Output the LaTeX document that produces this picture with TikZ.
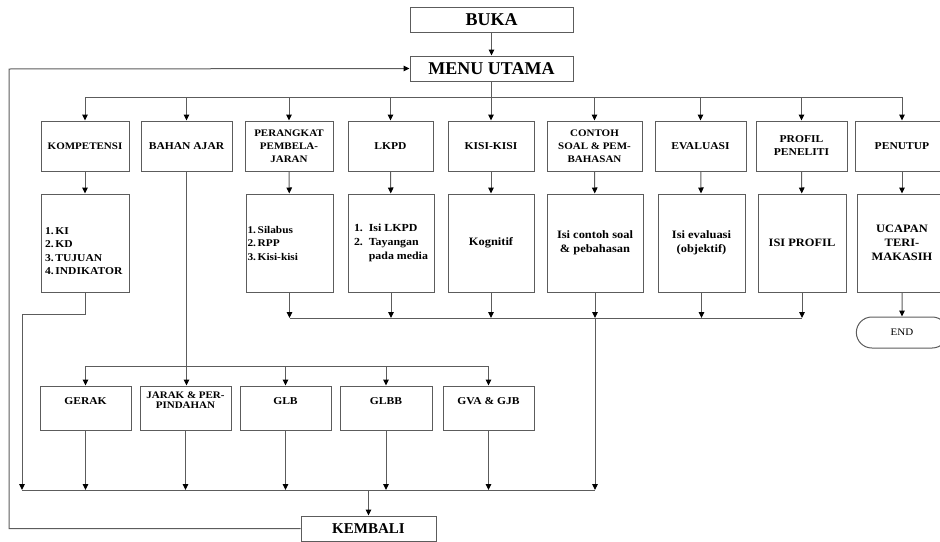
\documentclass[tikz,border=0pt]{standalone}
\usepackage{fontspec}
\setmainfont{Liberation Serif}
\newfontfamily\wideserif{Liberation Serif}[FakeStretch=1.1]
\usetikzlibrary{arrows.meta, shapes.misc}
\definecolor{Wire}{HTML}{5C5C5C}

\begin{document}
\begin{tikzpicture}[x=1pt, y=-1pt, >={Triangle[length=6pt, width=5.5pt, black]},
  box/.style={draw=Wire, line width=1pt, inner sep=2pt, align=center,
    font=\wideserif\bfseries\fontsize{10.5}{13}\selectfont},
  bigbox/.style={box, minimum width=163pt, minimum height=25pt,
    font=\bfseries\fontsize{18}{20}\selectfont},
  topbox/.style={box, minimum height=50pt},
  listbox/.style={box, minimum height=98pt, font=\wideserif\bfseries\fontsize{11.3}{14}\selectfont},
  lowbox/.style={box, minimum height=44pt, inner ysep=3pt, text height=15pt, text depth=23pt},
  wire/.style={draw=Wire, line width=1pt},
  arr/.style={wire, ->}]
  \useasboundingbox (0,0) rectangle (940,541);

  \node[bigbox] (buka) at (491.5,19.5) {BUKA};
  \node[bigbox] (menu) at (491.5,68.5) {MENU UTAMA};

  % menu items
  \node[topbox, minimum width=88pt, font=\wideserif\bfseries\fontsize{10}{13}\selectfont] (k1) at (85,146) {KOMPETENSI};
  \node[topbox, minimum width=91pt] (k2) at (186.5,146) {BAHAN AJAR};
  \node[topbox, minimum width=88pt, font=\wideserif\bfseries\fontsize{10}{13}\selectfont] (k3) at (289,146) {PERANGKAT\\PEMBELA-\\JARAN};
  \node[topbox, minimum width=85pt] (k4) at (390.5,146) {LKPD};
  \node[topbox, minimum width=86pt] (k5) at (491,146) {KISI-KISI};
  \node[topbox, minimum width=95pt, font=\wideserif\bfseries\fontsize{10}{13}\selectfont] (k6) at (594.5,146) {CONTOH\\SOAL \& PEM-\\BAHASAN};
  \node[topbox, minimum width=91pt] (k7) at (700.5,146) {EVALUASI};
  \node[topbox, minimum width=91pt] (k8) at (801.5,146) {PROFIL\\PENELITI};
  \node[topbox, minimum width=94pt] (k9) at (902,146) {PENUTUP};

  % contents
  \node[listbox, align=left, inner xsep=4pt, text width=80pt, inner ysep=3pt,
    text height=37pt, text depth=55pt, font=\wideserif\bfseries\fontsize{10.5}{13.5}\selectfont]
    (i1) at (85,243) {1.\,KI\\2.\,KD\\3.\,TUJUAN\\4.\,INDIKATOR};
  \node[listbox, align=left, inner xsep=1.5pt, text width=84pt,
    font=\wideserif\bfseries\fontsize{10.3}{13.5}\selectfont] (i3) at (289.5,243) {1.\,Silabus\\2.\,RPP\\3.\,Kisi-kisi};
  \node[listbox, minimum width=86pt, font=\wideserif\bfseries\fontsize{10.8}{14}\selectfont] (i4) at (391,243)
    {\begin{tabular}{@{}l@{\ \ }l@{}}1. & Isi LKPD\\2. & Tayangan\\ & pada media\end{tabular}};
  \node[listbox, minimum width=86pt] (i5) at (491,243) {Kognitif};
  \node[listbox, minimum width=96pt] (i6) at (595,243) {Isi contoh soal\\\& pebahasan};
  \node[listbox, minimum width=87pt] (i7) at (701.5,243) {Isi evaluasi\\(objektif)};
  \node[listbox, minimum width=88pt] (i8) at (802,243) {ISI PROFIL};
  \node[listbox, minimum width=90pt] (i9) at (902,243) {UCAPAN\\TERI-\\MAKASIH};
  \node[rounded rectangle, draw=Wire, line width=1pt, minimum width=98pt, minimum height=31pt,
    font=\wideserif\fontsize{10}{12}\selectfont] (end) at (902,332.5) {END};

  % materi
  \node[lowbox, minimum width=91pt] (g1) at (85.5,408) {GERAK};
  \node[lowbox, minimum width=91pt, text height=19pt, text depth=19pt,
    font=\wideserif\bfseries\fontsize{10}{10}\selectfont] (g2) at (185.5,408) {JARAK \& PER-\\PINDAHAN};
  \node[lowbox, minimum width=91pt] (g3) at (285.5,408) {GLB};
  \node[lowbox, minimum width=92pt] (g4) at (386,408) {GLBB};
  \node[lowbox, minimum width=91pt] (g5) at (488.5,408) {GVA \& GJB};

  \node[box, minimum width=135pt, minimum height=25pt,
    font=\bfseries\fontsize{15}{17}\selectfont] (kembali) at (368.5,528.5) {KEMBALI};

  \coordinate (top) at (491.5,97);
  \coordinate (sub) at (186.5,366);
  \coordinate (mid) at (595,318);
  \coordinate (bend) at (22,314);
  \coordinate (botL) at (22,490);
  \coordinate (edge) at (9,69);

  \draw[arr] (buka) -- (menu);
  \draw[wire] (menu) -- (top);
  \draw[wire] (top -| k1.north) -- (top -| k9.north);
  \foreach \n in {k1,k2,k3,k4,k5,k6,k7,k8,k9}
    \draw[arr] (top -| \n.north) -- (\n.north);
  \foreach \a/\b in {k1/i1,k3/i3,k4/i4,k5/i5,k6/i6,k7/i7,k8/i8,k9/i9}
    \draw[arr] (\a) -- (\b);
  \draw[arr] (i9) -- (end);

  \foreach \n in {i3,i4,i5,i6,i7,i8}
    \draw[arr] (\n.south) -- (\n.south |- mid);
  \draw[wire] (i3.south |- mid) -- (i8.south |- mid);
  \draw[arr] (mid) -- (mid |- botL);
  \draw[arr] (i1.south) |- (bend) -- (botL);

  \draw[arr] (k2.south) -- (k2.south |- g2.north);
  \draw[wire] (sub -| g1.north) -- (sub -| g5.north);
  \foreach \n in {g1,g3,g4,g5}
    \draw[arr] (sub -| \n.north) -- (\n.north);
  \foreach \n in {g1,g2,g3,g4,g5}
    \draw[arr] (\n.south) -- (\n.south |- botL);

  \draw[wire] (botL) -- (mid |- botL);
  \draw[arr] (kembali.north |- botL) -- (kembali.north);
  \draw[arr] (kembali.west) -| (edge) -- (menu.west);
\end{tikzpicture}
\end{document}
